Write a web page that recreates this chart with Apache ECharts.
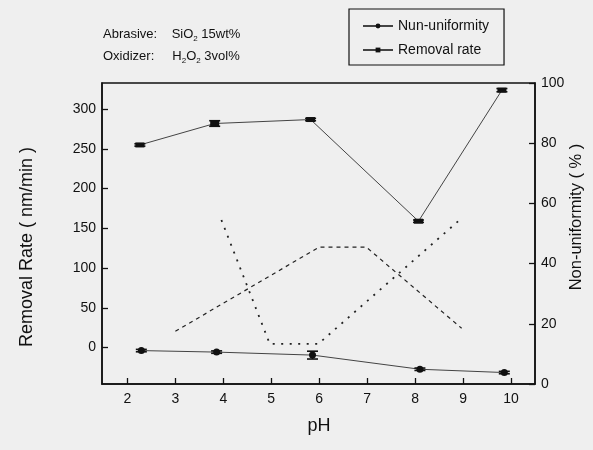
<!DOCTYPE html>
<html>
<head>
<meta charset="utf-8">
<script src="https://cdn.jsdelivr.net/npm/echarts@6/dist/echarts.min.js"></script>
<style>
  html, body { margin: 0; padding: 0; background: #efefef; }
  #chart { width: 593px; height: 450px; }
</style>
</head>
<body>
<div id="chart"></div>
<script>
  // removal rate (left axis, nm/min)
  const phRate = [2.26, 3.82, 5.82, 8.07, 9.81];
  const removalRate = [255, 282, 287, 159, 324];
  const rateErr = [1.5, 3.5, 1.5, 1.5, 2];

  // non-uniformity (right axis, %)
  const phNonUni = [2.29, 3.86, 5.86, 8.10, 9.86];
  const nonUniformity = [11.1, 10.6, 9.6, 4.9, 3.8];
  const nonUniErr = [0.4, 0.4, 1.3, 0.4, 0.4];

  // stray dashed / dotted traces in the plot (right axis, %)
  const dashX = [3.0, 6.0, 6.98, 8.97];
  const dashY = [17.5, 45.5, 45.5, 18.5];
  const dotX = [3.96, 4.97, 5.98, 8.95];
  const dotY = [54.5, 13.3, 13.3, 54.8];

  // tick labels
  const phTicks = [2, 3, 4, 5, 6, 7, 8, 9, 10];
  const rateTicks = [0, 50, 100, 150, 200, 250, 300];
  const nonUniTicks = [0, 20, 40, 60, 80, 100];

  const font = 'Liberation Sans, Arial, sans-serif';
  const ink = '#111';

  let eChart = echarts.init(document.getElementById('chart'));

  // error bar drawn through the axes of its own series
  function errorBar(params, api) {
    const x = api.value(0), y = api.value(1), e = api.value(2);
    const hi = api.coord([x, y + e]);
    const lo = api.coord([x, y - e]);
    const w = 5.5;
    const style = { stroke: ink, lineWidth: 1.6 };
    return {
      type: 'group',
      children: [
        { type: 'line', shape: { x1: hi[0], y1: hi[1], x2: lo[0], y2: lo[1] }, style: style },
        { type: 'line', shape: { x1: hi[0] - w, y1: hi[1], x2: hi[0] + w, y2: hi[1] }, style: style },
        { type: 'line', shape: { x1: lo[0] - w, y1: lo[1], x2: lo[0] + w, y2: lo[1] }, style: style }
      ]
    };
  }

  const zip = (a, b, c) => a.map((v, i) => c ? [v, b[i], c[i]] : [v, b[i]]);

  eChart.setOption({
    backgroundColor: '#efefef',
    animation: false,
    textStyle: { fontFamily: font },
    grid: {
      left: 102, right: 58, top: 83, bottom: 66,
      show: true, borderColor: ink, borderWidth: 1.5, backgroundColor: 'transparent'
    },
    legend: {
      orient: 'vertical',
      left: 349, top: 9,
      padding: [10, 15, 8, 13],
      itemGap: 10,
      itemWidth: 30, itemHeight: 6,
      borderColor: ink, borderWidth: 1.2,
      textStyle: { fontSize: 14, color: ink, fontFamily: font },
      data: ['Nun-uniformity', 'Removal rate']
    },
    xAxis: {
      type: 'value',
      min: 1.47, max: 10.5,
      axisLine: { show: true, onZero: false, lineStyle: { color: ink, width: 1.5 } },
      axisTick: { show: true, inside: true, length: 6, customValues: phTicks, lineStyle: { color: ink, width: 1.3 } },
      axisLabel: { customValues: phTicks, margin: 8, fontSize: 14, color: ink },
      splitLine: { show: false }
    },
    yAxis: [
      {
        type: 'value',
        min: -46, max: 333,
        axisLine: { show: true, onZero: false, lineStyle: { color: ink, width: 1.5 } },
        axisTick: { show: true, inside: true, length: 6, customValues: rateTicks, lineStyle: { color: ink, width: 1.3 } },
        axisLabel: { customValues: rateTicks, margin: 6, fontSize: 14, color: ink },
        splitLine: { show: false }
      },
      {
        type: 'value',
        min: 0, max: 100,
        position: 'right',
        axisLine: { show: true, onZero: false, lineStyle: { color: ink, width: 1.5 } },
        axisTick: { show: true, inside: true, length: 6, customValues: nonUniTicks, lineStyle: { color: ink, width: 1.3 } },
        axisLabel: { customValues: nonUniTicks, margin: 6, fontSize: 14, color: ink },
        splitLine: { show: false }
      }
    ],
    graphic: [
      {
        type: 'text', left: 103, top: 28,
        style: {
          text: 'Abrasive:    SiO{s|2} 15wt%',
          font: '13px ' + font, fill: ink,
          rich: { s: { fontSize: 8, padding: [9, 0, 0, 0], fill: ink } }
        }
      },
      {
        type: 'text', left: 103, top: 50,
        style: {
          text: 'Oxidizer:     H{s|2}O{s|2} 3vol%',
          font: '13px ' + font, fill: ink,
          rich: { s: { fontSize: 8, padding: [9, 0, 0, 0], fill: ink } }
        }
      },
      {
        type: 'text', x: 27, y: 247, rotation: Math.PI / 2,
        style: { text: 'Removal Rate ( nm/min )', font: '18px ' + font, fill: ink, align: 'center', verticalAlign: 'middle' }
      },
      {
        type: 'text', x: 576, y: 217, rotation: Math.PI / 2,
        style: { text: 'Non-uniformity ( % )', font: '16.5px ' + font, fill: ink, align: 'center', verticalAlign: 'middle' }
      },
      {
        type: 'text', x: 319, y: 426,
        style: { text: 'pH', font: '18px ' + font, fill: ink, align: 'center', verticalAlign: 'middle' }
      }
    ],
    series: [
      {
        name: 'Nun-uniformity',
        type: 'line',
        yAxisIndex: 1,
        data: zip(phNonUni, nonUniformity),
        symbol: 'circle', symbolSize: 7,
        itemStyle: { color: ink },
        lineStyle: { color: '#444', width: 1 },
        z: 3
      },
      {
        name: 'Removal rate',
        type: 'line',
        yAxisIndex: 0,
        data: zip(phRate, removalRate),
        symbol: 'rect', symbolSize: [9, 5],
        itemStyle: { color: ink },
        lineStyle: { color: '#444', width: 1 },
        z: 3
      },
      {
        type: 'custom',
        yAxisIndex: 0,
        renderItem: errorBar,
        data: zip(phRate, removalRate, rateErr),
        z: 4
      },
      {
        type: 'custom',
        yAxisIndex: 1,
        renderItem: errorBar,
        data: zip(phNonUni, nonUniformity, nonUniErr),
        z: 4
      },
      {
        type: 'line',
        yAxisIndex: 1,
        data: zip(dashX, dashY),
        symbol: 'none',
        lineStyle: { color: '#222', width: 1.2, type: [4, 4] },
        z: 2
      },
      {
        type: 'line',
        yAxisIndex: 1,
        data: zip(dotX, dotY),
        symbol: 'none',
        lineStyle: { color: '#222', width: 1.8, type: [2, 6.5] },
        z: 2
      }
    ]
  });
</script>
</body>
</html>
